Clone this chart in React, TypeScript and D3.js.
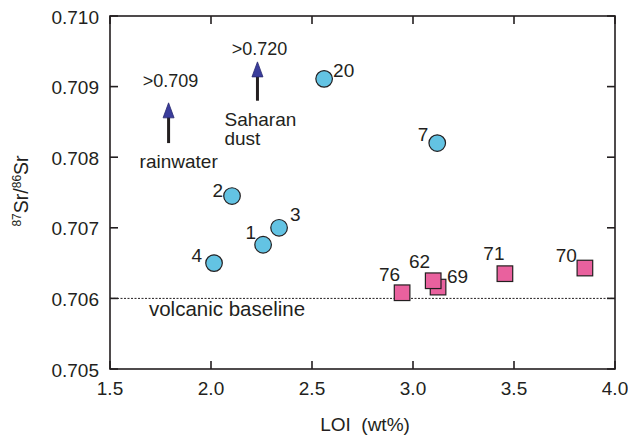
import React from 'react';
import * as d3 from 'd3';

// samples measured on volcanic rock (circles) and soil (squares)
const circleLabels = ['20', '7', '2', '3', '1', '4'];
const circleLOI = [2.56, 3.12, 2.104, 2.337, 2.258, 2.015];
const circleSr = [0.70911, 0.7082, 0.70745, 0.707, 0.70676, 0.7065];

// 69 drawn before 62 so that 62 sits on top
const squareLabels = ['76', '69', '62', '71', '70'];
const squareLOI = [2.946, 3.124, 3.1, 3.455, 3.851];
const squareSr = [0.70608, 0.70616, 0.70625, 0.70635, 0.70643];

const xTicks = [1.5, 2.0, 2.5, 3.0, 3.5, 4.0];
const yTicks = [0.705, 0.706, 0.707, 0.708, 0.709, 0.71];

const baselineSr = 0.706;

// external sources shown as arrows
const sourceNames = ['rainwater', 'Saharan dust'];
const sourceLOI = [1.79, 2.23];
const sourceTip = [0.70877, 0.70935];
const sourceTail = [0.7082, 0.7088];
const sourceValue = ['>0.709', '>0.720'];

// label placement relative to the marker: [dx, dy, anchor]
const labelOffsets: Record<string, [number, number, string]> = {
  '20': [9, -2, 'start'],
  '7': [-9, -2, 'end'],
  '2': [-9, 1, 'end'],
  '3': [11, -7, 'start'],
  '1': [-7, -6, 'end'],
  '4': [-12, -1, 'end'],
  '76': [-2, -12, 'end'],
  '62': [-3, -13, 'end'],
  '69': [9, -4, 'start'],
  '71': [-11, -14, 'middle'],
  '70': [-8, -6, 'end'],
};
// value text above arrow tip, name text below arrow tail: [valueDy, nameDx]
const sourceOffsets: [number, number][] = [
  [-16, -29],
  [-7, -33],
];

const W = 628;
const H = 435;
const margin = {left: 110, right: 13, top: 16, bottom: 66};
const font = 'Liberation Sans, Arial, Helvetica, sans-serif';
const ink = '#231f20';

export default function App() {
  const x = d3.scaleLinear().domain([1.5, 4.0]).range([margin.left, W - margin.right]);
  const y = d3.scaleLinear().domain([0.705, 0.71]).range([H - margin.bottom, margin.top]);
  const [x0, x1] = x.range();
  const [y0, y1] = y.range();
  const tk = 8;

  const circles = circleLabels.map((l, i) => ({label: l, cx: x(circleLOI[i]), cy: y(circleSr[i])}));
  const squares = squareLabels.map((l, i) => ({label: l, cx: x(squareLOI[i]), cy: y(squareSr[i])}));

  const pointLabel = (p: {label: string; cx: number; cy: number}) => {
    const [dx, dy, anchor] = labelOffsets[p.label];
    return (
      <text key={'t' + p.label} x={p.cx + dx} y={p.cy + dy} textAnchor={anchor as any} fontSize={19}>
        {p.label}
      </text>
    );
  };

  return (
    <svg
      width={W}
      height={H}
      style={{position: 'absolute', left: 0, top: 0, display: 'block', background: '#fff'}}
      fontFamily={font}
      fill={ink}>
      {/* volcanic baseline */}
      <line x1={x0} x2={x1} y1={y(baselineSr)} y2={y(baselineSr)} stroke={ink} strokeWidth={1} strokeDasharray={'2,1.5'} />
      <text x={227} y={y(baselineSr) + 18} textAnchor="middle" fontSize={20.5}>
        volcanic baseline
      </text>

      {/* frame and ticks */}
      <rect x={x0} y={y1} width={x1 - x0} height={y0 - y1} fill="none" stroke={ink} strokeWidth={1.6} />
      {xTicks.map(t => (
        <g key={'x' + t}>
          <line x1={x(t)} x2={x(t)} y1={y0} y2={y0 - tk} stroke={ink} strokeWidth={1.6} />
          <line x1={x(t)} x2={x(t)} y1={y1} y2={y1 + tk} stroke={ink} strokeWidth={1.6} />
          <text x={x(t)} y={y0 + 26} textAnchor="middle" fontSize={19}>
            {d3.format('.1f')(t)}
          </text>
        </g>
      ))}
      {yTicks.map(t => (
        <g key={'y' + t}>
          <line x1={x0} x2={x0 + tk} y1={y(t)} y2={y(t)} stroke={ink} strokeWidth={1.6} />
          <line x1={x1} x2={x1 - tk} y1={y(t)} y2={y(t)} stroke={ink} strokeWidth={1.6} />
          <text x={x0 - 11} y={y(t) + 7.5} textAnchor="end" fontSize={19}>
            {d3.format('.3f')(t)}
          </text>
        </g>
      ))}

      {/* axis titles */}
      <text x={365} y={431} textAnchor="middle" fontSize={19} style={{whiteSpace: 'pre'}}>
        {'LOI  (wt%)'}
      </text>
      <text transform={`translate(28, 191) rotate(-90)`} textAnchor="middle" fontSize={19.5}>
        <tspan fontSize={12} dy={-7}>87</tspan>
        <tspan dy={7}>Sr/</tspan>
        <tspan fontSize={12} dy={-7}>86</tspan>
        <tspan dy={7}>Sr</tspan>
      </text>

      {/* source arrows */}
      {sourceNames.map((name, i) => {
        const ax = x(sourceLOI[i]);
        const tip = y(sourceTip[i]);
        const tail = y(sourceTail[i]);
        const [valueDy, nameDx] = sourceOffsets[i];
        const words = i === 0 ? [name] : name.split(' ');
        return (
          <g key={name}>
            <line x1={ax} x2={ax} y1={tip + 12} y2={tail} stroke={ink} strokeWidth={3} />
            <path d={`M${ax},${tip} L${ax + 5.5},${tip + 15} L${ax - 5.5},${tip + 15} Z`} fill="#3a3d9c" stroke="#2a2a70" strokeWidth={0.8} />
            <text x={ax + 2} y={tip + valueDy} textAnchor="middle" fontSize={18}>
              {sourceValue[i]}
            </text>
            {words.map((w, j) => (
              <text key={w} x={ax + nameDx} y={tail + 25 + j * 19} fontSize={19}>
                {w}
              </text>
            ))}
          </g>
        );
      })}

      {/* samples */}
      {circles.map(p => (
        <circle key={p.label} cx={p.cx} cy={p.cy} r={8.3} fill="#63c3e3" stroke={ink} strokeWidth={1.2} />
      ))}
      {circles.map(pointLabel)}
      {squares.map(p => (
        <rect key={p.label} x={p.cx - 7.8} y={p.cy - 7.8} width={15.6} height={15.6} fill="#e9619e" stroke={ink} strokeWidth={1.2} />
      ))}
      {squares.map(pointLabel)}
    </svg>
  );
}
